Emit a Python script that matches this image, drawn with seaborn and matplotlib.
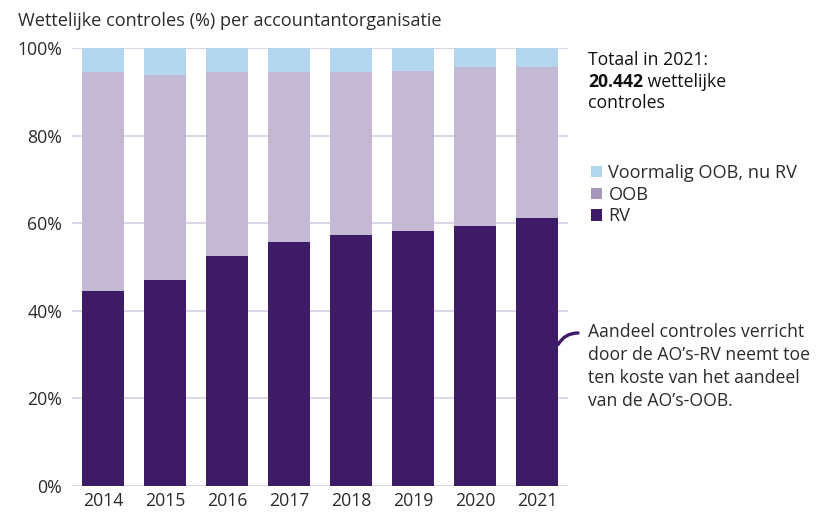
import matplotlib
matplotlib.use("Agg")
import matplotlib.pyplot as plt
import seaborn as sns
import pandas as pd
import numpy as np
from matplotlib.patches import Patch

years = ["2014", "2015", "2016", "2017", "2018", "2019", "2020", "2021"]
rv = [44.6, 47.1, 52.6, 55.6, 57.4, 58.2, 59.3, 61.2]
oob = [50.0, 46.7, 42.0, 39.0, 37.2, 36.6, 36.4, 34.5]
voormalig = [5.4, 6.2, 5.4, 5.4, 5.4, 5.2, 4.3, 4.3]
ytick_labels = ["0%", "20%", "40%", "60%", "80%", "100%"]

C_RV = "#3e1b66"
C_OOB = "#c4b9d4"
C_OOB_LEG = "#a598bb"
C_VO = "#b3d6ee"
C_GRID = "#dcd5e6"
C_TXT = "#2b2b2b"

sns.set_theme(style="white")
plt.rcParams["font.family"] = ["Open Sans", "DejaVu Sans"]
FS = 12.7

df = pd.DataFrame({"jaar": years, "rv": rv, "oob": oob, "vo": voormalig})
df["top_oob"] = df["rv"] + df["oob"]
df["top_vo"] = df["top_oob"] + df["vo"]

fig = plt.figure(figsize=(8.25, 5.12), dpi=100)
ax = fig.add_axes([0.0873, 0.0508, 0.6012, 0.8554])

ax.set_axisbelow(True)
for t in range(0, 101, 20):
    ax.axhline(t, color=C_GRID, lw=1.4, zorder=0)

w = 0.68
sns.barplot(data=df, x="jaar", y="top_vo", color=C_VO, width=w, ax=ax,
            saturation=1, zorder=2, linewidth=0)
sns.barplot(data=df, x="jaar", y="top_oob", color=C_OOB, width=w, ax=ax,
            saturation=1, zorder=3, linewidth=0)
sns.barplot(data=df, x="jaar", y="rv", color=C_RV, width=w, ax=ax,
            saturation=1, zorder=4, linewidth=0)

ax.set_xlim(-0.5, 7.5)
ax.set_ylim(0, 100)
ax.set_yticks(range(0, 101, 20))
ax.set_yticklabels(ytick_labels)
ax.set_xlabel("")
ax.set_ylabel("")
for s in ax.spines.values():
    s.set_visible(False)
ax.tick_params(axis="both", length=0, labelsize=FS, colors=C_TXT)
ax.tick_params(axis="y", pad=7)
ax.tick_params(axis="x", pad=4)

fig.text(18 / 825, 1 - 21 / 512, "Wettelijke controles (%) per accountantorganisatie",
         fontsize=13.1, color=C_TXT, va="center", ha="left")

# Totaal text
fig.text(588 / 825, 1 - 60 / 512, "Totaal in 2021:", fontsize=FS,
         color="#111111", va="center", ha="left")
t2 = fig.text(588 / 825, 1 - 82 / 512, "20.442", fontsize=FS, fontweight="bold",
              color="#111111", va="center", ha="left")
ax.annotate(" wettelijke", xy=(1, 0.5), xycoords=t2, va="center", ha="left",
            fontsize=FS, color="#111111")
fig.text(588 / 825, 1 - 103 / 512, "controles", fontsize=FS,
         color="#111111", va="center", ha="left")

# Legend
handles = [Patch(facecolor=C_VO, edgecolor="none", label="Voormalig OOB, nu RV"),
           Patch(facecolor=C_OOB_LEG, edgecolor="none", label="OOB"),
           Patch(facecolor=C_RV, edgecolor="none", label="RV")]
fig.legend(handles=handles, loc="upper left", bbox_to_anchor=(582 / 825, 1 - 155 / 512),
           frameon=False, fontsize=13.1, handlelength=0.6, handleheight=0.6,
           handletextpad=0.35, labelspacing=0.2, borderpad=0, labelcolor=C_TXT)

# Annotation connector
ax.annotate("", xy=(7 + w / 2, 32.3), xycoords="data",
            xytext=(578 / 825, 1 - 333 / 512), textcoords="figure fraction",
            annotation_clip=False,
            arrowprops=dict(arrowstyle="-", color=C_RV, lw=2.4,
                            shrinkA=0, shrinkB=0,
                            connectionstyle="angle3,angleA=0,angleB=60"))
fig.text(588 / 825, 1 - 366.5 / 512,
         "Aandeel controles verricht\ndoor de AO’s-RV neemt toe\nten koste van het aandeel\nvan de AO’s-OOB.",
         fontsize=FS, color=C_TXT, va="center", ha="left", linespacing=1.38)

fig.savefig("out.png", dpi=100)
